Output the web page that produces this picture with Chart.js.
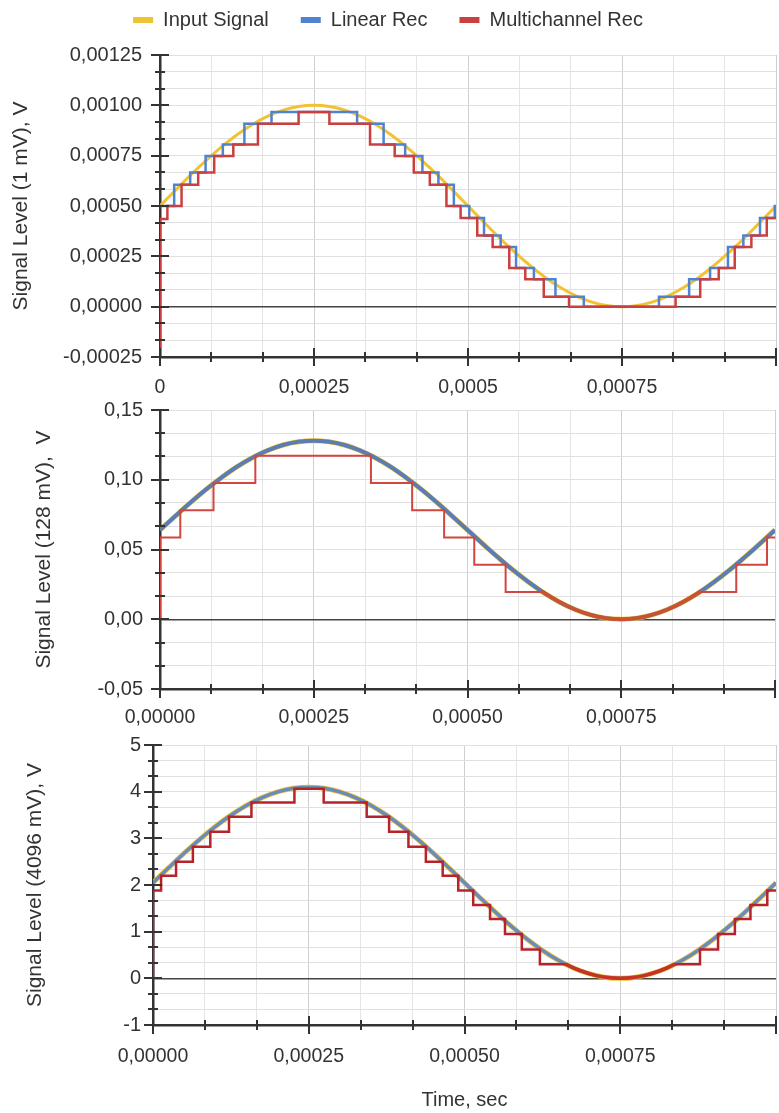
<!DOCTYPE html>
<html>
<head>
<meta charset="utf-8">
<script src="https://cdn.jsdelivr.net/npm/chart.js@4.4.1/dist/chart.umd.min.js"></script>
<style>
html,body{margin:0;padding:0;background:#ffffff;}
#wrap{position:relative;width:779px;height:1113px;overflow:hidden;background:#fff;}
canvas{position:absolute;left:0;}
</style>
</head>
<body>
<div id="wrap">
<canvas id="c1" width="779" height="400" style="top:0px"></canvas>
<canvas id="c2" width="779" height="336" style="top:396px"></canvas>
<canvas id="c3" width="779" height="381" style="top:732px"></canvas>
</div>
<script>
// ---------- DATA ----------
const seriesNames = ['Input Signal', 'Linear Rec', 'Multichannel Rec'];

// time base for the input signal (s)
const tSignal = [0,0.000025,0.00005,0.000075,0.0001,0.000125,0.00015,0.000175,0.0002,0.000225,
  0.00025,0.000275,0.0003,0.000325,0.00035,0.000375,0.0004,0.000425,0.00045,0.000475,
  0.0005,0.000525,0.00055,0.000575,0.0006,0.000625,0.00065,0.000675,0.0007,0.000725,
  0.00075,0.000775,0.0008,0.000825,0.00085,0.000875,0.0009,0.000925,0.00095,0.000975,0.001];

// panel 1 (1 mV)
const signal1mV = [0.0005,0.000578,0.000655,0.000727,0.000794,0.000854,0.000905,0.000946,0.000976,0.000994,
  0.001,0.000994,0.000976,0.000946,0.000905,0.000854,0.000794,0.000727,0.000655,0.000578,
  0.0005,0.000422,0.000345,0.000273,0.000206,0.000146,0.000095,0.000054,0.000024,0.000006,
  0,0.000006,0.000024,0.000054,0.000095,0.000146,0.000206,0.000273,0.000345,0.000422,0.0005];
const linT1mV = [0,0.000023,0.000049,0.000074,0.000102,0.000137,0.000181,0.00032,0.000363,0.000398,
  0.000426,0.000452,0.000477,0.000502,0.000526,0.000553,0.000578,0.000607,0.000642,0.000688,
  0.00081,0.000859,0.000893,0.000922,0.000947,0.000974,0.000998,0.001];
const linV1mV = [0.0005,0.000605,0.000666,0.000748,0.000806,0.000908,0.000967,0.000908,0.000806,0.000748,
  0.000666,0.000605,0.0005,0.000441,0.000353,0.000296,0.000192,0.000136,0.000049,0,
  0.000049,0.000136,0.000192,0.000296,0.000353,0.000441,0.0005,0.0005];
const mulT1mV = [0,0,0.000012,0.000035,0.000062,0.000088,0.000119,0.000159,0.000225,0.000275,
  0.000341,0.000381,0.000412,0.000438,0.000465,0.000488,0.000515,0.00054,0.000567,0.000593,
  0.000623,0.000664,0.000837,0.000877,0.000907,0.000933,0.00096,0.000985,0.001];
const mulV1mV = [-0.00025,0.000436,0.0005,0.000605,0.000666,0.000748,0.000806,0.000908,0.000967,0.000908,
  0.000806,0.000748,0.000666,0.000605,0.0005,0.000441,0.000353,0.000296,0.000192,0.000136,
  0.000049,0,0.000049,0.000136,0.000192,0.000296,0.000353,0.000441,0.000441];

// panel 2 (128 mV)
const signal128mV = [0.064,0.074,0.0838,0.0931,0.1016,0.1093,0.1158,0.121,0.1249,0.1272,
  0.128,0.1272,0.1249,0.121,0.1158,0.1093,0.1016,0.0931,0.0838,0.074,
  0.064,0.054,0.0442,0.0349,0.0264,0.0187,0.0122,0.007,0.0031,0.0008,
  0,0.0008,0.0031,0.007,0.0122,0.0187,0.0264,0.0349,0.0442,0.054,0.064];
const linear128mV = [0.064,0.074,0.0838,0.0931,0.1016,0.1093,0.1158,0.121,0.1249,0.1272,
  0.128,0.1272,0.1249,0.121,0.1158,0.1093,0.1016,0.0931,0.0838,0.074,
  0.064,0.054,0.0442,0.0349,0.0264,0.0187,0.0122,0.007,0.0031,0.0008,
  0,0.0008,0.0031,0.007,0.0122,0.0187,0.0264,0.0349,0.0442,0.054,0.064];
const mulT128mV = [0,0,0.000033,0.000087,0.000155,0.000343,0.00041,0.000462,0.000511,0.000562,0.00062,
  0.00075,0.00088,0.000937,0.000987,0.001];
const mulV128mV = [0,0.0586,0.0781,0.0977,0.1172,0.0977,0.0781,0.0586,0.039,0.0195,0.0195,
  null,0.0195,0.039,0.0586,0.0586];
const mulCurveT128mV = [0.00062,0.000645,0.00067,0.000695,0.00072,0.00075,0.00078,0.000805,0.00083,0.000855,0.00088];
const mulCurveV128mV = [0.0202,0.0136,0.0079,0.0038,0.0011,0,0.0011,0.0038,0.0079,0.0136,0.0202];

// panel 3 (4096 mV)
const signal4096mV = [2.048,2.368,2.681,2.978,3.252,3.496,3.705,3.873,3.996,4.073,
  4.096,4.073,3.996,3.873,3.705,3.496,3.252,2.978,2.681,2.368,
  2.048,1.728,1.415,1.118,0.844,0.6,0.391,0.223,0.1,0.025,
  0,0.025,0.1,0.223,0.391,0.6,0.844,1.118,1.415,1.728,2.048];
const linear4096mV = [2.048,2.368,2.681,2.978,3.252,3.496,3.705,3.873,3.996,4.073,
  4.096,4.073,3.996,3.873,3.705,3.496,3.252,2.978,2.681,2.368,
  2.048,1.728,1.415,1.118,0.844,0.6,0.391,0.223,0.1,0.025,
  0,0.025,0.1,0.223,0.391,0.6,0.844,1.118,1.415,1.728,2.048];
const mulT4096mV = [0,0,0.000013,0.000037,0.000064,0.000092,0.000122,0.000158,0.000227,0.000274,
  0.000343,0.000379,0.00041,0.000438,0.000465,0.00049,0.000514,0.000541,0.000565,0.000592,
  0.000621,0.000662,0.00075,0.000838,0.000878,0.000907,0.000934,0.000959,0.000986,0.001];
const mulV4096mV = [0,1.88,2.2,2.5,2.82,3.14,3.46,3.77,4.06,3.77,
  3.46,3.14,2.82,2.5,2.2,1.88,1.57,1.27,0.95,0.62,
  0.3,0.3,null,0.3,0.62,0.95,1.27,1.57,1.88,1.88];
const mulCurveT4096mV = [0.000662,0.000685,0.00071,0.00073,0.00075,0.00077,0.00079,0.000815,0.000838];
const mulCurveV4096mV = [0.304,0.168,0.064,0.016,0,0.016,0.064,0.168,0.304];

// axis ticks (major values + labels)
const xMajor = [0,0.00025,0.0005,0.00075,0.001];
const xLabels1 = ['0','0,00025','0,0005','0,00075',''];
const xLabels23 = ['0,00000','0,00025','0,00050','0,00075',''];
const yMajor1 = [-0.00025,0,0.00025,0.0005,0.00075,0.001,0.00125];
const yLabels1 = ['-0,00025','0,00000','0,00025','0,00050','0,00075','0,00100','0,00125'];
const yMajor2 = [-0.05,0,0.05,0.1,0.15];
const yLabels2 = ['-0,05','0,00','0,05','0,10','0,15'];
const yMajor3 = [-1,0,1,2,3,4,5];
const yLabels3 = ['-1','0','1','2','3','4','5'];
const yTitles = ['Signal Level (1 mV), V','Signal Level (128 mV),  V','Signal Level (4096 mV), V'];
const xTitle = 'Time, sec';

// ---------- STYLE / HELPERS ----------
const FONT = "'Liberation Sans', Arial, sans-serif";
Chart.defaults.font.family = FONT;
Chart.defaults.color = '#333';
const SUB = 3;
const COL_Y = '#f1c232', COL_B = '#4f82cf', COL_R = '#cc3f3f';

function pts(xs, ys){ return xs.map((x,i)=>({x:x, y:ys[i]})); }
function subdivided(majors){
  const out=[];
  for(let i=0;i<majors.length-1;i++){
    for(let k=0;k<SUB;k++) out.push({value: majors[i]+(majors[i+1]-majors[i])*k/SUB});
  }
  out.push({value: majors[majors.length-1]});
  return out;
}

const crossTicks = {
  id:'crossTicks',
  afterDraw(chart){
    const {ctx, scales:{x,y}, chartArea:a} = chart;
    ctx.save();
    ctx.strokeStyle='#333'; ctx.lineWidth=2;
    y.ticks.forEach((t,i)=>{
      const p=Math.round(y.getPixelForValue(t.value));
      const L = i%SUB===0 ? 9 : 5;
      ctx.beginPath(); ctx.moveTo(a.left-L,p); ctx.lineTo(a.left+L,p); ctx.stroke();
    });
    x.ticks.forEach((t,i)=>{
      const p=Math.round(x.getPixelForValue(t.value));
      const L = i%SUB===0 ? 9 : 5;
      ctx.beginPath(); ctx.moveTo(p,a.bottom-L); ctx.lineTo(p,a.bottom+L); ctx.stroke();
    });
    ctx.restore();
  }
};
const legendSpacer = {
  id:'legendSpacer',
  beforeLayout(chart, args, opts){
    const lg = chart.legend;
    if(lg && !lg._spaced){
      const f = lg.fit;
      lg.fit = function(){ f.call(this); this.height = opts.h; };
      lg._spaced = true;
    }
  }
};

function makeChart(id, cfg){
  const datasets = [
    {label:seriesNames[0], data:pts(tSignal,cfg.sig), borderColor:COL_Y, backgroundColor:COL_Y,
     borderWidth:cfg.wY, tension:0.4, pointRadius:0, order:4},
    {label:seriesNames[1], data:cfg.lin, borderColor:cfg.colB, backgroundColor:COL_B,
     borderWidth:cfg.wB, stepped:cfg.linStepped, tension:cfg.linStepped?0:0.4, pointRadius:0, order:3},
    {label:seriesNames[2], data:cfg.mul, borderColor:cfg.colR, backgroundColor:COL_R,
     borderWidth:cfg.wR, stepped:'before', pointRadius:0, spanGaps:false, order:1}
  ];
  if(cfg.curve){
    datasets.push({label:'curve', data:cfg.curve, borderColor:cfg.colCurve, backgroundColor:COL_R,
      borderWidth:cfg.wCurve, tension:0.4, pointRadius:0, order:2});
  }
  return new Chart(document.getElementById(id), {
    type:'line',
    data:{datasets},
    plugins: cfg.legend ? [crossTicks, legendSpacer] : [crossTicks],
    options:{
      responsive:false, animation:false, devicePixelRatio:1,
      layout:{padding:{top:cfg.padTop, right:cfg.padRight, left:0, bottom:cfg.padBottom}},
      plugins:{
        legendSpacer:{h:77},
        tooltip:{enabled:false},
        legend:{
          display:cfg.legend,
          position:'top',
          labels:{
            boxWidth:20, boxHeight:6, padding:32, color:'#333',
            font:{size:20, family:FONT},
            sort:(a,b)=>a.datasetIndex-b.datasetIndex,
            generateLabels:(chart)=>Chart.defaults.plugins.legend.labels.generateLabels(chart)
              .filter(l=>l.datasetIndex<3)
              .map(l=>Object.assign({}, l, {lineWidth:0, fillStyle:[COL_Y,COL_B,COL_R][l.datasetIndex]}))
          }
        }
      },
      scales:{
        x:{
          type:'linear', min:0, max:0.001,
          afterBuildTicks:s=>{ s.ticks = subdivided(xMajor); },
          afterFit:s=>{ s.height = cfg.xH; s.paddingLeft = 0; s.paddingRight = 0; },
          ticks:{autoSkip:false, maxRotation:0, minRotation:0, padding:cfg.xPad,
            font:{size:19.5}, color:'#333',
            callback:(v,i)=> i%SUB===0 ? cfg.xLabels[i/SUB] : ''},
          grid:{drawTicks:false, color:c=> (c.index%SUB===0 ? '#cfcfcf' : '#e4e4e4'), lineWidth:1},
          border:{color:'#333', width:2.5},
          title:{display:!!cfg.xTitle, text:cfg.xTitle||'', font:{size:20}, color:'#333', padding:{top:0,bottom:1}}
        },
        y:{
          type:'linear', min:cfg.yMajor[0], max:cfg.yMajor[cfg.yMajor.length-1],
          afterBuildTicks:s=>{ s.ticks = subdivided(cfg.yMajor); },
          afterFit:s=>{ s.width = cfg.yW; s.paddingTop = 0; s.paddingBottom = 0; },
          ticks:{autoSkip:false, padding:cfg.yPad, font:{size:20}, color:'#333',
            callback:(v,i)=> i%SUB===0 ? cfg.yLabels[i/SUB] : ''},
          grid:{drawTicks:false,
            color:c=> (Math.abs(c.tick.value)<1e-12 ? '#444' : '#e0e0e0'),
            lineWidth:c=> (Math.abs(c.tick.value)<1e-12 ? 1.5 : 1)},
          border:{color:'#333', width:2.5},
          title:{display:true, text:cfg.yTitle, font:{size:21}, color:'#333', padding:{top:cfg.yTitlePad, bottom:0}}
        }
      }
    }
  });
}

makeChart('c1', {
  sig:signal1mV, lin:pts(linT1mV,linV1mV), linStepped:'before', mul:pts(mulT1mV,mulV1mV),
  wY:3, wB:2.5, wR:2.5, colB:COL_B, colR:COL_R,
  legend:true, padTop:-22, padRight:3, padBottom:0,
  xH:43, xPad:19, xLabels:xLabels1, yMajor:yMajor1, yLabels:yLabels1, yW:160, yPad:18,
  yTitle:yTitles[0], yTitlePad:9
});
makeChart('c2', {
  sig:signal128mV, lin:pts(tSignal,linear128mV), linStepped:false, mul:pts(mulT128mV,mulV128mV),
  curve:pts(mulCurveT128mV,mulCurveV128mV), colCurve:'#d0502e', wCurve:3.5,
  wY:5, wB:4, wR:2, colB:'#5a7db3', colR:'#d2463f',
  legend:false, padTop:14, padRight:4, padBottom:0,
  xH:43, xPad:17, xLabels:xLabels23, yMajor:yMajor2, yLabels:yLabels2, yW:160, yPad:17,
  yTitle:yTitles[1], yTitlePad:32
});
makeChart('c3', {
  sig:signal4096mV, lin:pts(tSignal,linear4096mV), linStepped:false, mul:pts(mulT4096mV,mulV4096mV),
  curve:pts(mulCurveT4096mV,mulCurveV4096mV), colCurve:'#c8321e', wCurve:3.5,
  wY:5, wB:3.5, wR:2.5, colB:'#6a8cba', colR:'#b8232a',
  legend:false, padTop:13, padRight:3, padBottom:0,
  xH:88, xPad:20, xLabels:xLabels23, xTitle:xTitle, yMajor:yMajor3, yLabels:yLabels3, yW:153, yPad:12,
  yTitle:yTitles[2], yTitlePad:23
});
</script>
</body>
</html>
